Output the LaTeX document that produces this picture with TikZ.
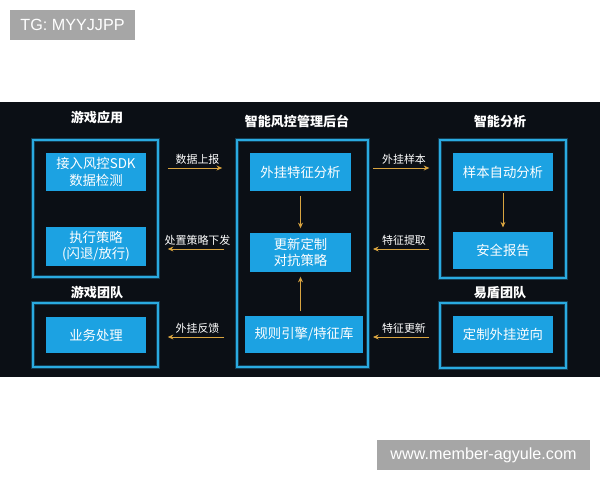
\documentclass[tikz,border=0pt]{standalone}
\usepackage{fontspec}
\setmainfont{Liberation Sans}
\newfontfamily\cjk{Noto Sans CJK SC}
\usetikzlibrary{arrows.meta}

\definecolor{panelbg}{HTML}{0B0F15}
\definecolor{boxline}{HTML}{2AAAE0}
\definecolor{boxglow}{HTML}{123C52}
\definecolor{boxfill}{HTML}{1CA2E2}
\definecolor{flowcol}{HTML}{D9A440}
\definecolor{taggray}{HTML}{A6A6A6}

\begin{document}
\begin{tikzpicture}[x=0.025cm,y=-0.025cm,
    outer/.style={draw=boxline, line width=1.1pt, preaction={draw=boxglow, line width=3pt}, inner sep=0pt},
    inner/.style={fill=boxfill, text=white, font=\cjk\fontsize{9.5}{11.5}\selectfont, align=center, minimum width=2.5cm, minimum height=0.95cm, inner sep=0pt},
    title/.style={text=white, font=\cjk\bfseries\fontsize{9.3}{11}\selectfont},
    flow/.style={draw=flowcol, line width=0.6pt, -{Stealth[length=4pt,width=3.5pt]}},
    flowlabel/.style={text=white, font=\cjk\fontsize{7.8}{9}\selectfont, above, inner sep=2.5pt},
    tag/.style={fill=taggray, text=white, font=\fontsize{11.5}{13}\selectfont, inner sep=0pt}]

    \useasboundingbox (0,0) rectangle (600,480);

    % corner tags
    \fill[taggray] (10,10) rectangle (135,40);
    \node[tag] (tg) at (72.5,25) {TG: MYYJJPP};
    \fill[taggray] (377,440) rectangle (590,470);
    \node[tag] (www) at (483.5,455) {www.member-agyule.com};

    % dark panel
    \fill[panelbg] (0,102) rectangle (600,377);

    % rows of the side arrows
    \coordinate (r1) at (0,168);
    \coordinate (r2) at (0,249);
    \coordinate (r3) at (0,337);

    % left column: game app / game team
    \node[title] (tapp) at (97,118) {游戏应用};
    \node[outer, minimum width=3.125cm, minimum height=3.425cm] (lo1) at (95.5,208.5) {};
    \node[inner] (la) at (96,172) {接入风控SDK\\数据检测};
    \node[inner] (lb) at (96,246.5) {执行策略\\(闪退/放行)};
    \node[title] (tteam) at (97,292) {游戏团队};
    \node[outer, minimum width=3.125cm, minimum height=1.6cm] (lo2) at (95.5,335) {};
    \node[inner, minimum height=0.9cm] (lc) at (96,335) {业务处理};

    % middle column: backend
    \node[title] (tmid) at (297,121) {智能风控管理后台};
    \node[outer, minimum width=3.275cm, minimum height=5.675cm] (mo) at (302.5,253.5) {};
    \node[inner] (ma) at (300.5,172) {外挂特征分析};
    \node[inner] (mb) at (300.5,252.5) {更新定制\\对抗策略};
    \node[inner, minimum width=2.95cm, minimum height=0.925cm] (mc) at (304,334.5) {规则引擎/特征库};

    \draw[flow, shorten <=3pt, shorten >=3.5pt] (ma.south) -- (mb.north);
    \draw[flow, shorten <=3pt, shorten >=3.5pt] (mc.north -| mb.south) -- (mb.south);

    % right column: analysis / yidun team
    \node[title] (tana) at (500,121) {智能分析};
    \node[outer, minimum width=3.15cm, minimum height=3.45cm] (ro1) at (503,209) {};
    \node[inner] (ra) at (503,172) {样本自动分析};
    \node[inner, minimum height=0.925cm] (rb) at (503,250.5) {安全报告};
    \node[title] (tyd) at (500,293) {易盾团队};
    \node[outer, minimum width=3.15cm, minimum height=1.625cm] (ro2) at (503,335.5) {};
    \node[inner, minimum height=0.925cm] (rc) at (503,334.5) {定制外挂逆向};

    \draw[flow, shorten <=1.5pt, shorten >=3pt] (ra.south) -- (rb.north);

    % arrows between the columns
    \draw[flow, shorten <=6.4pt, shorten >=10pt] (lo1.east |- r1) -- (mo.west |- r1) node[flowlabel, midway] {数据上报};
    \draw[flow, shorten <=8.5pt, shorten >=6.4pt] (mo.west |- r2) -- (lo1.east |- r2) node[flowlabel, midway] {处置策略下发};
    \draw[flow, shorten <=8.5pt, shorten >=6.4pt] (mo.west |- r3) -- (lo2.east |- r3) node[flowlabel, midway] {外挂反馈};
    \draw[flow, shorten <=3pt, shorten >=7pt] (mo.east |- r1) -- (ro1.west |- r1) node[flowlabel, midway] {外挂样本};
    \draw[flow, shorten <=7pt, shorten >=3pt] (ro1.west |- r2) -- (mo.east |- r2) node[flowlabel, midway] {特征提取};
    \draw[flow, shorten <=7pt, shorten >=3pt] (ro2.west |- r3) -- (mo.east |- r3) node[flowlabel, midway] {特征更新};

\end{tikzpicture}
\end{document}
